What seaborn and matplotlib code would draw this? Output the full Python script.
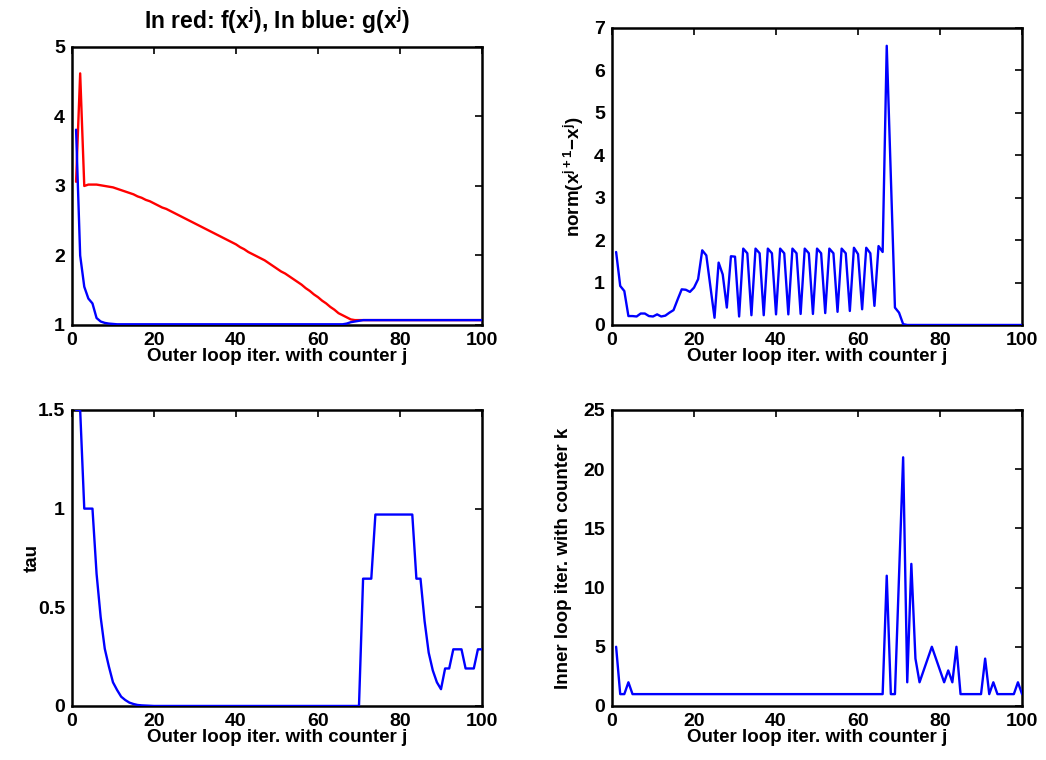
import numpy as np
import matplotlib
matplotlib.use("Agg")
import matplotlib.pyplot as plt
import seaborn as sns

# outer loop counter
j = list(range(1, 101))

# f(x^j) -- red
f_vals = [3.06, 4.62, 3.00, 3.02, 3.02, 3.02, 3.01, 3.00, 2.99, 2.98,
          2.96, 2.94, 2.92, 2.90, 2.88, 2.85, 2.83, 2.80, 2.78, 2.75,
          2.72, 2.69, 2.67, 2.64, 2.61, 2.58, 2.55, 2.52, 2.49, 2.46,
          2.43, 2.40, 2.37, 2.34, 2.31, 2.28, 2.25, 2.22, 2.19, 2.16,
          2.12, 2.09, 2.05, 2.02, 1.99, 1.96, 1.93, 1.89, 1.85, 1.81,
          1.77, 1.74, 1.70, 1.66, 1.62, 1.58, 1.53, 1.49, 1.44, 1.40,
          1.35, 1.31, 1.26, 1.22, 1.17, 1.14, 1.11, 1.08, 1.07, 1.07] + [1.07] * 30

# g(x^j) -- blue
g_vals = [3.81, 2.00, 1.55, 1.38, 1.31, 1.10, 1.05, 1.03, 1.02, 1.015] \
    + [1.01] * 56 + [1.02, 1.04, 1.05, 1.06, 1.07] + [1.07] * 29

# norm(x^{j+1}-x^j)
step_norm = [1.72, 0.92, 0.80, 0.21, 0.21, 0.20, 0.27, 0.27, 0.21, 0.20,
             0.25, 0.20, 0.22, 0.29, 0.35, 0.60, 0.84, 0.83, 0.78, 0.88,
             1.08, 1.76, 1.64, 0.90, 0.17, 1.47, 1.19, 0.41, 1.62, 1.61,
             0.20, 1.80, 1.69, 0.23, 1.80, 1.69, 0.23, 1.80, 1.69, 0.25,
             1.80, 1.69, 0.25, 1.80, 1.69, 0.26, 1.80, 1.69, 0.26, 1.80,
             1.69, 0.28, 1.80, 1.69, 0.31, 1.80, 1.69, 0.33, 1.82, 1.67,
             0.37, 1.82, 1.69, 0.45, 1.86, 1.72, 6.58, 3.50, 0.41, 0.29,
             0.02] + [0.0] * 29

# tau
tau = [1.5, 1.5, 1.0, 1.0, 1.0, 0.67, 0.45, 0.29, 0.20, 0.12,
       0.081, 0.047, 0.03, 0.017, 0.01, 0.005, 0.003, 0.002, 0.001] \
    + [0.0] * 51 \
    + [0.645, 0.645, 0.645] + [0.97] * 10 \
    + [0.645, 0.645, 0.43, 0.27, 0.18, 0.12, 0.085, 0.19, 0.19,
       0.287, 0.287, 0.287, 0.19, 0.19, 0.19, 0.287, 0.287]

# inner loop iterations k
k_iter = [5, 1, 1, 2, 1] + [1] * 61 \
    + [11, 1, 1, 11, 21, 2, 12, 4, 2, 3, 4, 5, 4, 3, 2, 3, 2, 5, 1,
       1, 1, 1, 1, 1, 4, 1, 2, 1, 1, 1, 1, 1, 2, 1]

sns.set_style("white")
plt.rcParams["font.family"] = ["Liberation Sans", "DejaVu Sans"]
plt.rcParams["font.weight"] = "bold"
plt.rcParams["font.size"] = 13.5
plt.rcParams["text.color"] = "black"
plt.rcParams["axes.labelcolor"] = "black"
plt.rcParams["xtick.color"] = "black"
plt.rcParams["ytick.color"] = "black"
plt.rcParams["mathtext.fontset"] = "custom"
plt.rcParams["mathtext.rm"] = "Liberation Sans:bold"
plt.rcParams["mathtext.it"] = "Liberation Sans:bold"
plt.rcParams["mathtext.bf"] = "Liberation Sans:bold"
plt.rcParams["mathtext.default"] = "rm"

fig = plt.figure(figsize=(10.46, 7.6), dpi=100)
ax1 = fig.add_axes([0.0688, 0.5724, 0.392, 0.3658])
ax2 = fig.add_axes([0.5851, 0.5724, 0.392, 0.3908])
ax3 = fig.add_axes([0.0688, 0.0711, 0.392, 0.3895])
ax4 = fig.add_axes([0.5851, 0.0711, 0.392, 0.3895])

lw = 1.7
sns.lineplot(x=j, y=f_vals, ax=ax1, color="red", linewidth=lw, zorder=3)
sns.lineplot(x=j, y=g_vals, ax=ax1, color="blue", linewidth=lw, zorder=3)
ax1.set_ylim(1, 5)
ax1.set_yticks([1, 2, 3, 4, 5])
ax1.set_title("In red: f(x$^{j}$), In blue: g(x$^{j}$)", fontsize=16.5,
              fontweight="bold", pad=13)

sns.lineplot(x=j, y=step_norm, ax=ax2, color="blue", linewidth=lw, zorder=3)
ax2.set_ylim(0, 7)
ax2.set_yticks(range(0, 8))
ax2.set_ylabel("norm(x$^{j+1}$−x$^{j}$)", fontweight="bold", labelpad=6)

sns.lineplot(x=j, y=tau, ax=ax3, color="blue", linewidth=lw, zorder=3)
ax3.set_ylim(0, 1.5)
ax3.set_yticks([0, 0.5, 1, 1.5])
ax3.set_yticklabels(["0", "0.5", "1", "1.5"])
ax3.set_ylabel("tau", fontweight="bold", labelpad=-2)

sns.lineplot(x=j, y=k_iter, ax=ax4, color="blue", linewidth=lw, zorder=3)
ax4.set_ylim(0, 25)
ax4.set_yticks(range(0, 26, 5))
ax4.set_ylabel("Inner loop iter. with counter k", fontweight="bold", labelpad=8)

for ax in (ax1, ax2, ax3, ax4):
    ax.set_xlim(0, 100)
    ax.set_xticks(range(0, 101, 20))
    ax.set_xlabel("Outer loop iter. with counter j", fontweight="bold", labelpad=-1)
    ax.tick_params(direction="in", length=5, width=1.2, top=True, right=True,
                   labelsize=14, pad=5)
    for s in ax.spines.values():
        s.set_linewidth(1.8)
        s.set_color("black")
    for lab in ax.get_xticklabels() + ax.get_yticklabels():
        lab.set_fontweight("bold")
ax1.set_ylabel("")

fig.savefig("out.png", dpi=100)
